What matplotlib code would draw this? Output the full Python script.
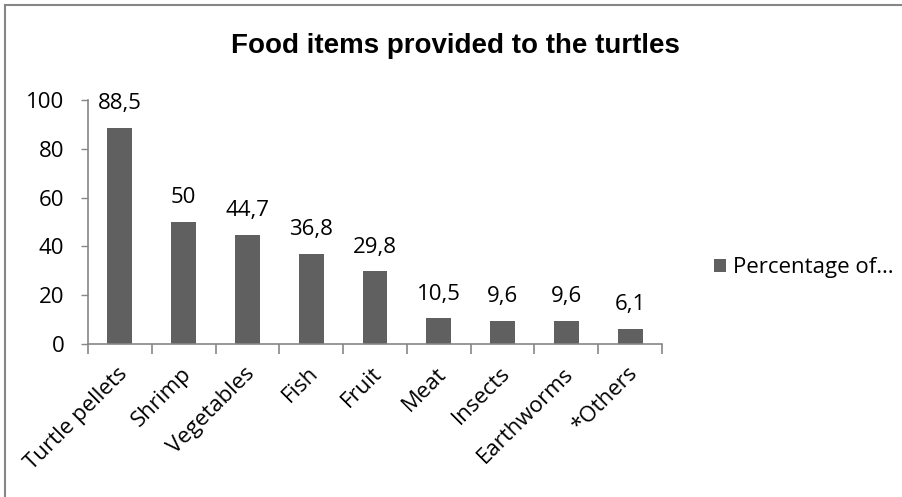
import matplotlib.pyplot as plt
from matplotlib.lines import Line2D

# data
foods = ['Turtle pellets', 'Shrimp', 'Vegetables', 'Fish', 'Fruit', 'Meat',
         'Insects', 'Earthworms', '*Others']
percent = [88.5, 50, 44.7, 36.8, 29.8, 10.5, 9.6, 9.6, 6.1]
labels = ['88,5', '50', '44,7', '36,8', '29,8', '10,5', '9,6', '9,6', '6,1']
yticks = [0, 20, 40, 60, 80, 100]

plt.rcParams['font.family'] = ['Open Sans', 'DejaVu Sans']
axis_col = '#868686'
bar_col = '#606060'
fs = 16

fig = plt.figure(figsize=(9.03, 4.97), dpi=100)
# chart border (only top and left show inside the picture)
fig.add_artist(Line2D([5 / 903, 1], [1 - 5 / 497] * 2, transform=fig.transFigure,
                      color=axis_col, lw=1.5))
fig.add_artist(Line2D([5 / 903] * 2, [0, 1 - 5 / 497], transform=fig.transFigure,
                      color=axis_col, lw=1.5))

ax = fig.add_axes([88 / 903, 1 - 344 / 497, (662 - 88) / 903, 244 / 497])
x = list(range(len(foods)))
ax.bar(x, percent, width=0.39, color=bar_col, label='Percentage of\u2026')

# value labels: baseline ~19px above the bar
for xi, v, lab in zip(x, percent, labels):
    ax.annotate(lab, (xi, v), xytext=(0, 13.5), textcoords='offset points',
                ha='center', va='baseline', fontsize=fs)

ax.set_xlim(-0.5, len(foods) - 0.5)
ax.set_ylim(0, 100)
ax.set_yticks(yticks)
ax.tick_params(axis='y', labelsize=fs, length=5, color=axis_col, width=1, pad=12)

# ticks at category boundaries, names rotated under each bar
ax.set_xticks([i - 0.5 for i in range(len(foods) + 1)])
ax.set_xticklabels([])
ax.tick_params(axis='x', length=7, color=axis_col, width=1.2)
for xi, name in zip(x, foods):
    ax.annotate(name, (xi, 0), xytext=(3, -19), textcoords='offset points',
                ha='right', va='center', rotation=45, rotation_mode='anchor',
                fontsize=fs, annotation_clip=False)

for s in ['top', 'right']:
    ax.spines[s].set_visible(False)
for s in ['left', 'bottom']:
    ax.spines[s].set_color(axis_col)
    ax.spines[s].set_linewidth(1.2)

fig.text(455 / 903, 1 - 46 / 497, 'Food items provided to the turtles',
         ha='center', va='center', fontsize=20, fontweight='bold',
         family=['Liberation Sans', 'DejaVu Sans'])

h, l = ax.get_legend_handles_labels()
fig.legend(h, l, loc='center left', bbox_to_anchor=(714 / 903, 1 - 268 / 497),
           frameon=False, fontsize=fs, handlelength=0.55, handleheight=0.55,
           handletextpad=0.3, borderpad=0, borderaxespad=0)

fig.savefig('out.png', dpi=100)
